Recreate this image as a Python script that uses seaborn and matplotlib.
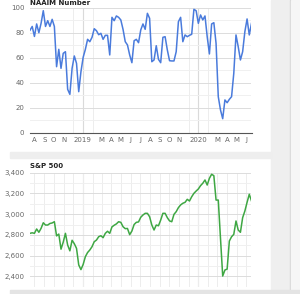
import seaborn as sns
import pandas as pd
import matplotlib.pyplot as plt
import matplotlib.dates as mdates
from matplotlib.patches import Rectangle
from matplotlib.ticker import MultipleLocator

# weekly readings (Wednesdays), mid Jul 2018 .. mid Jun 2020
dates = pd.date_range("2018-07-18", periods=101, freq="7D")

naaim = [82, 85, 77, 87, 80, 87.5, 97.6, 85, 89.6, 85, 90.7, 85, 52.8, 66.7, 51.5,
         63.5, 64.8, 34.7, 30.7, 51.5, 61.4, 55.5, 32.8, 48.8, 60.3, 66.7, 74.7,
         72.8, 76.3, 83.2, 81.6, 78.4, 79.5, 74.7, 77.9, 77.9, 62.2, 92.3, 89.6,
         93.4, 92.3, 90.2, 82.7, 72.8, 70.2, 62.2, 56, 73.6, 74.7, 72, 82.2, 87,
         82.7, 95.5, 91.5, 56.8, 58.2, 69.6, 58.7, 56, 76.3, 76.8, 66.2, 57.6,
         57.4, 57.4, 64.8, 88.8, 92.3, 72.8, 78.2, 76.8, 77.9, 78.7, 98.7, 97.6,
         87.5, 94.2, 90.2, 93.4, 76.8, 63, 87, 88, 71.5, 28.8, 18.2, 11.2, 26.2,
         24, 26.7, 28.8, 47.5, 78.2, 68.8, 58.2, 64.8, 80.8, 91, 78.2, 87.5]

sp500 = [2815, 2820, 2815, 2857, 2825, 2863, 2917, 2895, 2895, 2910, 2915, 2927,
         2790, 2808, 2662, 2730, 2815, 2702, 2646, 2748, 2715, 2670, 2510, 2465,
         2515, 2590, 2630, 2654, 2686, 2734, 2750, 2782, 2792, 2773, 2815, 2835,
         2815, 2877, 2893, 2906, 2927, 2921, 2879, 2860, 2862, 2802, 2837, 2900,
         2921, 2925, 2970, 2992, 3008, 3008, 2975, 2895, 2847, 2895, 2888, 2943,
         3008, 3008, 2966, 2935, 2927, 2998, 3024, 3063, 3089, 3105, 3114, 3143,
         3127, 3168, 3201, 3223, 3243, 3275, 3298, 3330, 3281, 3346, 3385, 3371,
         3136, 3136, 2767, 2403, 2461, 2470, 2741, 2782, 2805, 2934, 2847, 2825,
         2966, 3030, 3114, 3192, 3127]

tick_dates = ["2018-08-01", "2018-09-01", "2018-10-01", "2018-11-01", "2019-01-01",
              "2019-03-01", "2019-04-01", "2019-05-01", "2019-06-01", "2019-07-01",
              "2019-08-01", "2019-09-01", "2019-10-01", "2019-11-01", "2020-01-01",
              "2020-03-01", "2020-04-01", "2020-05-01", "2020-06-01"]
tick_labels = ["A", "S", "O", "N", "2019", "M", "A", "M", "J", "J", "A", "S", "O",
               "N", "2020", "M", "A", "M", "J"]

df = pd.DataFrame({"date": dates, "naaim": naaim, "sp500": sp500})

W, H = 300, 294
fig = plt.figure(figsize=(W / 100, H / 100), dpi=100)
fig.patch.set_facecolor("white")


def px_rect(x0, y0, x1, y1, color):
    fig.patches.append(Rectangle((x0 / W, 1 - y1 / H), (x1 - x0) / W, (y1 - y0) / H,
                                 transform=fig.transFigure, color=color, zorder=0))


# page background pieces around the two white cards
px_rect(271, 0, 290, 294, "#efefef")
px_rect(290, 0, 291, 294, "#d6d6d6")
px_rect(291, 0, 300, 294, "#f6f6f6")
px_rect(10, 152, 271, 158, "#eeeeee")
px_rect(10, 290, 300, 294, "#e4e4e4")


def setup(ax, major, minor):
    ax.set_facecolor("none")
    for s in ax.spines.values():
        s.set_visible(False)
    ax.yaxis.set_major_locator(MultipleLocator(major))
    ax.yaxis.set_minor_locator(MultipleLocator(minor))
    ax.xaxis.set_minor_locator(mdates.MonthLocator())
    ax.grid(which="major", axis="y", color="#dcdcdc", lw=0.7)
    ax.grid(which="minor", axis="y", color="#f0f0f0", lw=0.7)
    ax.grid(which="minor", axis="x", color="#ededed", lw=0.7)
    ax.tick_params(which="both", length=0, labelsize=5, colors="#666666", pad=4)
    ax.set_xlim(dates[0], dates[-1])
    ax.set_xlabel("")
    ax.set_ylabel("")
    for yr in ["2019-01-01", "2020-01-01"]:
        ax.axvline(pd.Timestamp(yr), color="#dadada", lw=0.8, zorder=1)


ax1 = fig.add_axes([30 / W, 1 - 132.7 / H, 221.5 / W, 125 / H])
sns.lineplot(data=df, x="date", y="naaim", ax=ax1, color="#4a7bdc", lw=1.1, zorder=3)
setup(ax1, 20, 10)
ax1.set_ylim(0, 100)
ax1.set_xticks(pd.to_datetime(tick_dates))
ax1.set_xticklabels(tick_labels)
ax1.tick_params(axis="x", pad=3)
ax1.spines["bottom"].set_visible(True)
ax1.spines["bottom"].set_color("#555555")
ax1.spines["bottom"].set_linewidth(0.8)
fig.text(30 / W, 1 - 5 / H, "NAAIM Number", fontsize=5, fontweight="bold",
         color="#222222", va="baseline")

ax2 = fig.add_axes([30 / W, 1 - 286.7 / H, 221.5 / W, 114 / H])
sns.lineplot(data=df, x="date", y="sp500", ax=ax2, color="#3ea743", lw=1.1, zorder=3)
setup(ax2, 200, 100)
ax2.set_ylim(2300, 3400)
ax2.set_xticks([])
ax2.yaxis.set_major_formatter(plt.FuncFormatter(lambda v, p: f"{v:,.0f}"))
fig.text(30 / W, 1 - 167.5 / H, "S&P 500", fontsize=5, fontweight="bold",
         color="#222222", va="baseline")

fig.savefig("out.png", dpi=100)
